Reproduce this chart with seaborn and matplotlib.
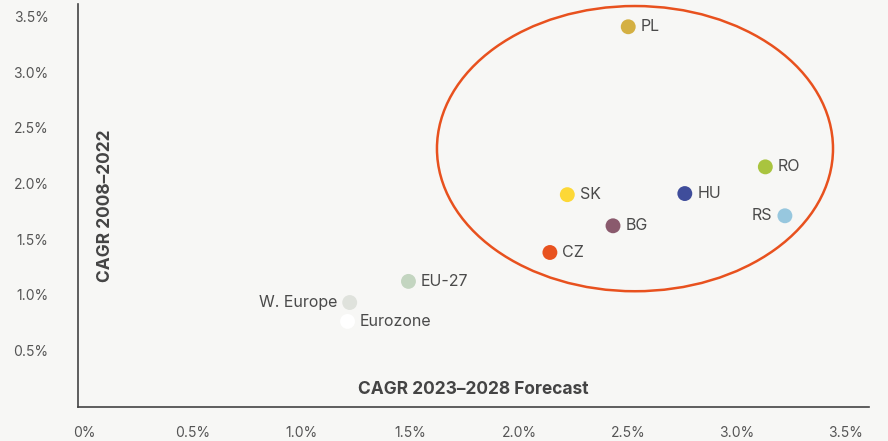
import numpy as np
import pandas as pd
import matplotlib
matplotlib.use("Agg")
import matplotlib.pyplot as plt
import seaborn as sns
from matplotlib.patches import Ellipse
from matplotlib.ticker import FuncFormatter

# données (en %)
pays = ["PL", "RO", "HU", "SK", "RS", "BG", "CZ", "EU-27", "W. Europe", "Eurozone"]
cagr_prevision = [2.50, 3.13, 2.76, 2.22, 3.22, 2.43, 2.14, 1.49, 1.22, 1.21]
cagr_historique = [3.41, 2.15, 1.91, 1.90, 1.71, 1.62, 1.38, 1.12, 0.93, 0.76]
couleurs = ["#d4b042", "#a9c43f", "#3f4d9b", "#fdd836", "#97c7de",
            "#8a5a6d", "#e8521f", "#c3d5c0", "#dfe2dc", "#ffffff"]
etiquette_gauche = ["RS", "W. Europe"]
x_ticks = [0, 0.5, 1.0, 1.5, 2.0, 2.5, 3.0, 3.5]
y_ticks = [0.5, 1.0, 1.5, 2.0, 2.5, 3.0, 3.5]

df = pd.DataFrame({"pays": pays, "prevision": cagr_prevision, "historique": cagr_historique})

fond = "#f7f7f5"
sns.set_style("white")
plt.rcParams["font.family"] = ["Inter", "DejaVu Sans"]

fig = plt.figure(figsize=(8.88, 4.41), dpi=100, facecolor=fond)
ax = fig.add_axes([0.0875, 0.077, 0.891, 0.914])
ax.set_facecolor(fond)

sns.scatterplot(data=df, x="prevision", y="historique", hue="pays",
                palette=dict(zip(pays, couleurs)), s=115, linewidth=0,
                legend=False, ax=ax, zorder=3)

for p, x, y in zip(pays, cagr_prevision, cagr_historique):
    if p in etiquette_gauche:
        ax.annotate(p, (x, y), xytext=(-9, 0), textcoords="offset points",
                    ha="right", va="center", fontsize=11.5, color="#4a4a4a")
    else:
        ax.annotate(p, (x, y), xytext=(9, 0), textcoords="offset points",
                    ha="left", va="center", fontsize=11.5, color="#4a4a4a")

# ellipse autour des pays CEE
ax.add_patch(Ellipse((2.531, 2.314), 1.82, 2.565, fill=False,
                     edgecolor="#e8511e", linewidth=1.8, zorder=2))

ax.set_xlim(-0.03, 3.606)
ax.set_ylim(-0.01, 3.615)
ax.set_xticks(x_ticks)
ax.set_yticks(y_ticks)
fmt = FuncFormatter(lambda v, _: "0%" if v == 0 else f"{v:.1f}%")
ax.xaxis.set_major_formatter(fmt)
ax.yaxis.set_major_formatter(fmt)
ax.tick_params(axis="both", length=0, labelsize=10, labelcolor="#555555")
ax.tick_params(axis="x", pad=14)
ax.tick_params(axis="y", pad=21)

ax.set_xlabel("CAGR 2023–2028 Forecast", fontsize=12.5, fontweight="bold", color="#444444")
ax.set_ylabel("CAGR 2008–2022", fontsize=12.5, fontweight="bold", color="#444444")
ax.xaxis.set_label_coords(0.5, 0.043)
ax.xaxis.label.set_va("center")
ax.yaxis.set_label_coords(0.035, 0.5)
ax.yaxis.label.set_va("center")

sns.despine(ax=ax)
for s in ["left", "bottom"]:
    ax.spines[s].set_color("#444444")
    ax.spines[s].set_linewidth(1.2)

fig.savefig("out.png", dpi=100, facecolor=fond)
